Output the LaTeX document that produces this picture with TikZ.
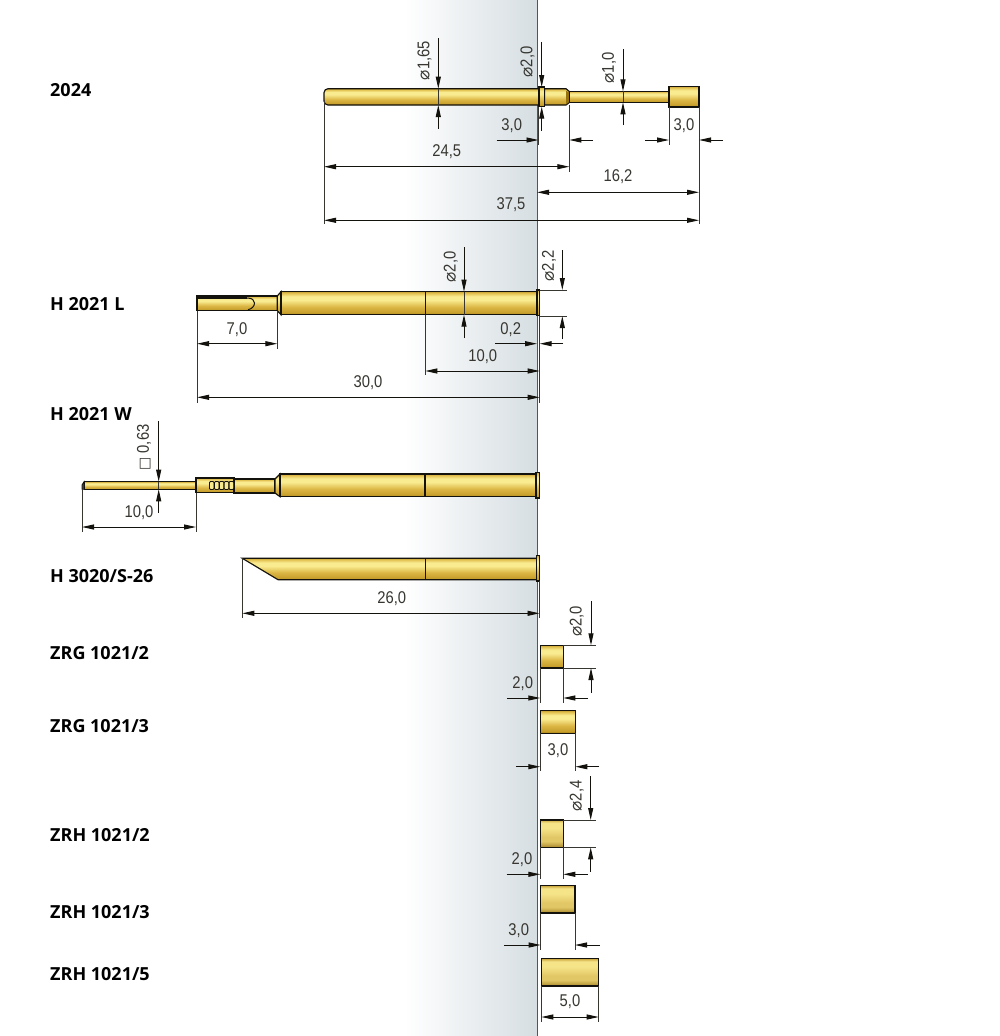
\documentclass[tikz,border=0pt]{standalone}
\usepackage{fontspec}
\setmainfont{Open Sans}
\newfontfamily\dimfont[FakeStretch=0.87]{Liberation Sans}
\newfontfamily\symfont{DejaVu Sans}
\usetikzlibrary{arrows.meta}
\definecolor{gA}{HTML}{C9A336}
\definecolor{gB}{HTML}{E2C050}
\definecolor{gC}{HTML}{F9EB90}
\definecolor{gD}{HTML}{DCB745}
\definecolor{gE}{HTML}{96720F}
\definecolor{gF}{HTML}{C69E2C}
\definecolor{hA}{HTML}{CBA63C}
\definecolor{hB}{HTML}{F5E488}
\definecolor{hC}{HTML}{E2C766}
\definecolor{hD}{HTML}{A98A2E}
\definecolor{bgGrey}{HTML}{D6DEE2}
\definecolor{inkc}{HTML}{14120C}
\definecolor{axisc}{HTML}{50565A}
\pgfdeclareverticalshading{gold}{100bp}{color(0bp)=(gE); color(25bp)=(gE); color(29bp)=(gF); color(42bp)=(gD); color(57bp)=(gC); color(65bp)=(gC); color(72bp)=(gB); color(75bp)=(gA); color(100bp)=(gA)}
\pgfdeclareverticalshading{goldsoft}{100bp}{color(0bp)=(hD); color(25bp)=(hD); color(36bp)=(hC); color(44bp)=(hC); color(60bp)=(hB); color(70bp)=(hB); color(75bp)=(hA); color(100bp)=(hA)}
\newcommand{\dia}{{\symfont\fontsize{17}{17}\selectfont ⌀}}
\tikzset{
  x=1pt,y=-1pt,
  tipd/.tip={Stealth[length=12pt,width=5pt,inset=0pt]},
  partshape/.style={draw=inkc,line width=1.15pt,shading=gold},
  softshape/.style={draw=inkc,line width=1.15pt,shading=goldsoft},
  thinshape/.style={draw=inkc,line width=.85pt,shading=gold},
  outline/.style={draw=inkc,line width=1.1pt},
  ext/.style={draw=inkc!85,line width=.85pt},
  dimline/.style={draw=inkc,line width=.95pt},
  dimtext/.style={font=\dimfont\fontsize{17}{17}\selectfont,text=inkc!85,inner sep=0pt,anchor=center},
  dimrot/.style={dimtext,rotate=90},
  pinlabel/.style={font=\fontsize{18}{18}\selectfont\bfseries,text=black,inner sep=0pt,anchor=west},
}
\begin{document}
\begin{tikzpicture}
\useasboundingbox (0,0) rectangle (1000,1036);
\fill[white] (0,0) rectangle (1000,1036);
\shade[left color=white,right color=bgGrey,shading angle=90] (405,0) rectangle (537,1036);
\draw[axisc,line width=1pt] (537,0) -- (537,1036);

% labels
\node[pinlabel] (l1) at (50,90.2) {2024};
\node[pinlabel] (l2) at (50,304.2) {H 2021 L};
\node[pinlabel] (l3) at (50,414.5) {H 2021 W};
\node[pinlabel] (l4) at (50,576.2) {H 3020/S-26};
\node[pinlabel] (l5) at (50,653.2) {ZRG 1021/2};
\node[pinlabel] (l6) at (50,726.2) {ZRG 1021/3};
\node[pinlabel] (l7) at (50,835.2) {ZRH 1021/2};
\node[pinlabel] (l8) at (50,912.2) {ZRH 1021/3};
\node[pinlabel] (l9) at (50,974.2) {ZRH 1021/5};

% ---- 2024
\draw[partshape,rounded corners=4pt] (324,88.7) rectangle (545,105);
\draw[partshape] (544.5,88.7) -- (566,88.7) -- (569.3,91.5) -- (569.3,102.5) -- (566,105) -- (544.5,105) -- cycle;
\fill[gE] (566,91) -- (569,92) -- (569,102) -- (566,104.5) -- cycle;
\draw[partshape] (569.3,91.3) rectangle (669,102.3);
\draw[partshape] (669,86.3) rectangle (699,107);
\draw[partshape] (539,87) rectangle (544.7,106.7);
% ext
\draw[ext] (324,100) -- (324,224);
\draw[ext] (538.5,107) -- (538.5,145);
\draw[ext] (569.3,105) -- (569.3,172);
\draw[ext] (669,107) -- (669,145);
\draw[ext] (699,107) -- (699,224);
% dims
\draw[dimline,-tipd] (438.3,38) -- (438.3,88.7);
\draw[dimline,-tipd] (438.3,128.7) -- (438.3,105);
\draw[ext] (438.3,88.7) -- (438.3,105);
\node[dimrot] (d1) at (424.5,60.5) {\dia1,65};
\draw[dimline,-tipd] (541.7,42) -- (541.7,87);
\draw[dimline,-tipd] (541.7,130.7) -- (541.7,106.7);
\node[dimrot] (d2) at (527.5,62) {\dia2,0};
\draw[dimline,-tipd] (623,49) -- (623,91.3);
\draw[dimline,-tipd] (623,125) -- (623,102.3);
\draw[ext] (623,91.3) -- (623,102.3);
\node[dimrot] (d3) at (609,68) {\dia1,0};
\draw[dimline,-tipd] (496.7,140) -- (538.5,140);
\draw[dimline,-tipd] (593,140) -- (569.3,140);
\node[dimtext] (d4) at (511.7,125.5) {3,0};
\draw[dimline,-tipd] (645,140) -- (669,140);
\draw[dimline,-tipd] (723,140) -- (699,140);
\node[dimtext] (d5) at (684,125.5) {3,0};
\draw[dimline,tipd-tipd] (324,166.7) -- (569.3,166.7);
\node[dimtext] (d6) at (446.7,152) {24,5};
\draw[dimline,tipd-tipd] (537,192.3) -- (699,192.3);
\node[dimtext] (d7) at (618,176.5) {16,2};
\draw[dimline,tipd-tipd] (324,220.3) -- (699,220.3);
\node[dimtext] (d8) at (511,205) {37,5};

% ---- H 2021 L
\draw[partshape] (197,296) rectangle (277.3,310.7);
\draw[inkc,line width=2.5pt] (197,297.5) -- (247,297.5);
\draw[inkc,line width=1pt] (247,298) .. controls (252,298) and (254.5,300) .. (254.5,303) .. controls (254.5,306) and (252,309) .. (248,309.7);
\draw[partshape] (277.3,296) -- (281,291.7) -- (281,314.7) -- (277.3,310.7) -- cycle;
\draw[partshape] (281,291.7) rectangle (537,314.7);
\draw[outline] (425.3,291.7) -- (425.3,314.7);
\draw[partshape] (537,290) rectangle (539.7,315.7);
\draw[ext] (539.7,290) -- (566.7,290);
\draw[ext] (539.7,316) -- (566.7,316);
\draw[ext] (197,310.7) -- (197,402.7);
\draw[ext] (277.3,310.7) -- (277.3,348.7);
\draw[ext] (425.3,314.7) -- (425.3,375);
\draw[ext] (539.7,316) -- (539.7,403);
\draw[dimline,-tipd] (464,247) -- (464,291.7);
\draw[dimline,-tipd] (464,338) -- (464,314.7);
\draw[ext] (464,291.7) -- (464,314.7);
\node[dimrot] (e1) at (450.7,267) {\dia2,0};
\draw[dimline,-tipd] (562.3,250) -- (562.3,290);
\draw[dimline,-tipd] (562.3,339) -- (562.3,316);
\node[dimrot] (e2) at (549,266) {\dia2,2};
\draw[dimline,-tipd] (495,343.7) -- (537,343.7);
\draw[dimline,-tipd] (563,343.7) -- (539.7,343.7);
\node[dimtext] (e3) at (510.7,329.5) {0,2};
\draw[dimline,tipd-tipd] (425.3,371) -- (539.7,371);
\node[dimtext] (e4) at (482.7,357) {10,0};
\draw[dimline,tipd-tipd] (197,343.7) -- (277.3,343.7);
\node[dimtext] (e5) at (237,329.5) {7,0};
\draw[dimline,tipd-tipd] (197,397.3) -- (539.7,397.3);
\node[dimtext] (e6) at (368,383) {30,0};

% ---- H 2021 W
\draw[thinshape] (84,481.7) -- (196,481.7) -- (196,489.3) -- (84,489.3) -- cycle;
\draw[draw=inkc,line width=.8pt,fill=inkc!80] (84,481.7) -- (82,485) -- (82,489.3) -- (84.5,489.3) -- cycle;
\draw[partshape] (196,478) rectangle (234,492.7);
\draw[partshape] (234,479) rectangle (275,493);
\foreach \rx in {209.5,214.4,219.3,224.2,229.1}{
  \draw[inkc,line width=.9pt,fill=gC,rounded corners=1pt] (\rx,481.5) rectangle +(4.6,8);
}
\draw[partshape] (275,479) -- (280,474) -- (280,496.7) -- (275,493) -- cycle;
\draw[partshape] (280,474) rectangle (536,496.7);
\draw[outline] (425,474) -- (425,496.7);
\draw[partshape] (536,472.3) rectangle (539.3,498);
\draw[ext] (82,489.3) -- (82,531.7);
\draw[ext] (196,492.7) -- (196,531.7);
\draw[dimline,-tipd] (158.7,421) -- (158.7,481.7);
\draw[dimline,-tipd] (158.7,512.7) -- (158.7,489.3);
\draw[ext] (158.7,481.7) -- (158.7,489.3);
\node[dimrot] (f1) at (144,447.5) {{\symfont\fontsize{14}{14}\selectfont □}\ 0,63};
\draw[dimline,tipd-tipd] (82,527) -- (196,527);
\node[dimtext] (f2) at (139,512.5) {10,0};

% ---- H 3020/S-26
\draw[partshape] (242.3,558.3) -- (536.7,558.3) -- (536.7,579.7) -- (278,579.7) -- cycle;
\draw[outline] (425.3,558.3) -- (425.3,579.7);
\draw[partshape] (536.7,555.7) rectangle (539.3,581);
\draw[ext] (242.3,558.3) -- (242.3,618);
\draw[ext] (539.5,581) -- (539.5,618);
\draw[dimline,tipd-tipd] (242.3,613.3) -- (539.5,613.3);
\node[dimtext] (g1) at (391.7,599) {26,0};

% ---- ZRG 1021/2
\draw[partshape] (540.3,645.3) rectangle (563.3,668);
\draw[ext] (563.3,645.3) -- (596,645.3);
\draw[ext] (563.3,668) -- (596,668);
\draw[ext] (540.3,668) -- (540.3,703);
\draw[ext] (563.3,668) -- (563.3,703);
\draw[dimline,-tipd] (591,601) -- (591,645.3);
\draw[dimline,-tipd] (591,692.7) -- (591,668);
\node[dimrot] (h1) at (576.7,621.5) {\dia2,0};
\draw[dimline,-tipd] (507.3,698) -- (540.3,698);
\draw[dimline,-tipd] (588,698) -- (563.3,698);
\node[dimtext] (h2) at (522.7,683.5) {2,0};

% ---- ZRG 1021/3
\draw[partshape] (540.3,710.7) rectangle (575.3,733.3);
\draw[ext] (540.3,733.3) -- (540.3,770.7);
\draw[ext] (575.3,733.3) -- (575.3,770.7);
\draw[dimline,-tipd] (516,766.7) -- (540.3,766.7);
\draw[dimline,-tipd] (599,766.7) -- (575.3,766.7);
\node[dimtext] (i1) at (558,751) {3,0};

% ---- ZRH 1021/2
\draw[softshape] (540.3,820) rectangle (563.3,847.3);
\draw[ext] (563.3,820) -- (596,820);
\draw[ext] (563.3,847.3) -- (596,847.3);
\draw[ext] (540.3,847.3) -- (540.3,879);
\draw[ext] (563.3,847.3) -- (563.3,879);
\draw[dimline,-tipd] (590.7,776) -- (590.7,820);
\draw[dimline,-tipd] (590.7,871.7) -- (590.7,847.3);
\node[dimrot] (j1) at (576.7,796) {\dia2,4};
\draw[dimline,-tipd] (506.7,874.3) -- (540.3,874.3);
\draw[dimline,-tipd] (587.7,874.3) -- (563.3,874.3);
\node[dimtext] (j2) at (522,859.5) {2,0};

% ---- ZRH 1021/3
\draw[softshape] (540.7,885.7) rectangle (575,913);
\draw[ext] (540.7,913) -- (540.7,950);
\draw[ext] (575,913) -- (575,950);
\draw[dimline,-tipd] (504,945) -- (540.7,945);
\draw[dimline,-tipd] (599.7,945) -- (575,945);
\node[dimtext] (k1) at (518.7,930.5) {3,0};

% ---- ZRH 1021/5
\draw[softshape] (541.3,958.7) rectangle (598.7,986);
\draw[ext] (541.3,986) -- (541.3,1021.7);
\draw[ext] (598.7,986) -- (598.7,1021.7);
\draw[dimline,tipd-tipd] (541.3,1017) -- (598.7,1017);
\node[dimtext] (m1) at (570,1001.5) {5,0};
\end{tikzpicture}
\end{document}
